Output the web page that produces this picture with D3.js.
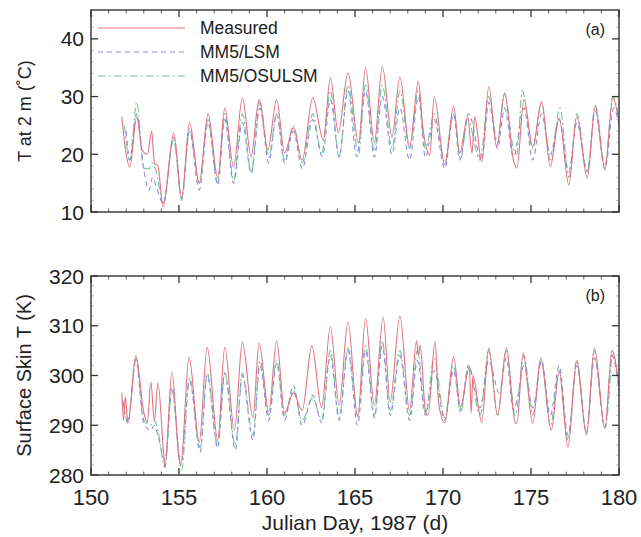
<!DOCTYPE html>
<html>
<head>
<meta charset="utf-8">
<script src="https://cdn.jsdelivr.net/npm/d3@7/dist/d3.min.js"></script>
<style>
body { margin: 0; background: #fff; }
text { font-family: "Liberation Sans", Arial, sans-serif; fill: #222; }
</style>
</head>
<body>
<div id="chart"></div>
<script>
// Data: [julian day, value] turning points
let seriesNames = ["Measured", "MM5/LSM", "MM5/OSULSM"];
let xTicks = [150, 155, 160, 165, 170, 175, 180];
let yTicksA = [10, 20, 30, 40];
let yTicksB = [280, 290, 300, 310, 320];

// (a) air temperature at 2 m (deg C)
let measuredT2m = [[151.75,26.5],[151.95,21],[152.2,17.8],[152.6,26.5],[152.9,20.8],[153.2,20],[153.45,24],[153.6,18.5],[153.8,18],[154.1,10.9],[154.7,23.7],[155.15,12.4],[155.6,25.5],[156.15,15],[156.65,27],[157.2,15.9],[157.6,28],[158.1,17.8],[158.6,29.8],[159.1,19.6],[159.45,28],[159.55,29.5],[160.05,20.8],[160.55,29.5],[161.0,20.2],[161.5,24.6],[162.0,19],[162.6,29.8],[163.2,22.5],[163.6,33.3],[164.05,23.7],[164.6,34.1],[165.2,22],[165.6,35],[166.1,22],[166.55,35.2],[167.1,23],[167.55,33.4],[168.1,21.3],[168.6,32.6],[168.85,24.8],[169.25,19.9],[169.5,30],[170.1,18.2],[170.6,28.3],[170.95,20.2],[171.4,26.5],[171.65,20.2],[171.8,26.5],[172.2,18.7],[172.6,31.7],[173.05,21.3],[173.5,30.6],[174.0,19],[174.2,17.6],[174.6,29.5],[175.1,21.3],[175.6,29.1],[176.1,17.9],[176.6,26.3],[177.15,14.7],[177.6,26.5],[178.2,15.9],[178.65,28.4],[179.2,17.3],[179.65,29.8],[180,25.5]];
let lsmT2m = [[152.0,24],[152.2,19],[152.6,27],[153.0,17.3],[153.3,13.8],[153.5,16],[153.7,14.5],[154.1,11.5],[154.7,23],[155.15,12.5],[155.6,24],[156.15,13.8],[156.65,25.5],[157.2,14.7],[157.6,26],[158.1,15],[158.6,25.5],[159.1,16.7],[159.6,28],[160.1,18.5],[160.55,27],[161.0,18.5],[161.5,24],[162.0,17.5],[162.6,26],[163.15,19.6],[163.6,29.5],[164.1,19.5],[164.6,31],[165.1,19.6],[165.6,31],[166.1,19.5],[166.55,30],[167.1,20],[167.55,28],[168.1,19],[168.6,30],[169.0,19.5],[169.5,26],[170.1,17.5],[170.6,27],[170.95,19],[171.45,27],[172.2,19],[172.6,29],[173.1,21],[173.5,28],[174.0,19.5],[174.6,28],[175.1,19],[175.6,27],[176.1,20],[176.6,26],[177.15,17],[177.6,25.5],[178.2,17],[178.65,27.5],[179.2,17.5],[179.7,28],[180,25]];
let osuT2m = [[151.9,25],[152.2,19],[152.6,29],[153.0,17.6],[153.3,17.5],[153.5,18.5],[153.7,17],[154.1,11.5],[154.7,22.5],[155.15,12],[155.6,24.5],[156.15,15],[156.65,26],[157.2,15],[157.6,27],[158.1,15.5],[158.6,27],[159.1,17],[159.6,29],[160.1,19.5],[160.55,27],[161.0,19],[161.5,25],[162.0,18.5],[162.6,27],[163.1,20],[163.6,31],[164.1,19.6],[164.6,32],[165.2,20],[165.6,32],[166.1,20.5],[166.55,32],[167.1,21],[167.55,31],[168.1,21],[168.6,31],[169.0,21],[169.5,27],[170.1,18.5],[170.6,27],[171.0,19.2],[171.4,26],[172.1,19],[172.6,30],[173.1,22],[173.5,30.5],[174.0,21],[174.2,20],[174.5,31],[175.1,21],[175.6,29],[176.1,19],[176.65,28],[177.15,16],[177.6,27],[178.2,17],[178.65,28.5],[179.2,18],[179.65,30],[180,26]];

// (b) surface skin temperature (K)
let measuredTs = [[151.75,296.5],[151.85,291],[151.95,295.7],[152.1,290.4],[152.55,304],[153.0,292.5],[153.2,290.6],[153.4,298.7],[153.6,291],[153.8,298.5],[154.15,283.2],[154.2,281.5],[154.6,300.7],[155.0,283.3],[155.1,282],[155.57,303.7],[156.15,286.6],[156.6,305.7],[157.2,287],[157.6,305.7],[158.15,289],[158.6,306.7],[159.2,291.5],[159.55,306.5],[160.1,292.7],[160.55,307],[161.0,292.5],[161.5,296.5],[162.0,293],[162.55,306],[163.1,293.5],[163.6,309.8],[164.1,294],[164.6,310.8],[165.15,291.5],[165.6,311.5],[166.1,294],[166.6,311.7],[167.0,294.7],[167.55,312],[168.1,293],[168.5,307],[168.6,304],[168.7,306],[169.0,293],[169.15,292],[169.55,306.8],[169.75,294.5],[170.1,290.5],[170.6,303.7],[171.0,293.7],[171.5,301.7],[171.6,292.5],[171.7,300],[172.2,290.6],[172.6,305.5],[173.1,292],[173.6,305.5],[174.1,290.6],[174.2,290.4],[174.55,304.5],[175.1,290.4],[175.55,303.5],[176.15,289],[176.6,300.7],[177.1,285.6],[177.6,303],[178.15,288],[178.6,305.5],[179.2,289.4],[179.6,305],[180,298]];
let lsmTs = [[151.8,295],[152.1,290.5],[152.55,303],[153.0,290.4],[153.4,289],[153.6,290],[153.8,288],[154.2,283],[154.6,297.7],[155.1,282],[155.6,299],[156.2,284.6],[156.6,300],[157.2,285.4],[157.6,300.5],[158.2,285],[158.6,300],[159.2,287],[159.6,302],[160.1,291],[160.55,302.5],[161.0,291],[161.5,298],[162.0,290],[162.6,296],[163.1,290.5],[163.6,304],[164.1,291],[164.6,305],[165.15,290],[165.6,305],[166.1,291.5],[166.55,306],[167.0,292],[167.55,304],[168.1,291],[168.55,303],[169.0,292],[169.5,301],[170.1,291],[170.6,301],[171.0,293],[171.45,302],[172.1,293.5],[172.6,303],[173.2,296.5],[173.6,303.5],[174.0,293],[174.2,295],[174.6,302],[175.1,293.5],[175.6,303],[176.1,292],[176.6,302],[177.1,288],[177.6,302],[178.15,288.5],[178.6,303.5],[179.2,289.5],[179.6,304],[180,297]];
let osuTs = [[151.8,295],[152.1,291],[152.55,303.5],[153.0,291],[153.4,290],[153.6,291],[153.8,289],[154.2,281.5],[154.6,297],[155.15,281],[155.6,299.5],[156.2,285.5],[156.6,300.5],[157.2,286],[157.6,300.5],[158.2,286],[158.6,300.5],[159.2,288],[159.6,303],[160.1,292],[160.55,303],[161.0,292],[161.5,297],[162.0,291],[162.6,295.5],[163.1,291],[163.6,305],[164.1,291.5],[164.6,305.5],[165.15,292],[165.6,306],[166.1,292],[166.55,307],[167.0,293],[167.55,305],[168.1,292],[168.55,305],[169.0,292.5],[169.5,303.5],[170.1,291.5],[170.6,302],[171.0,292.5],[171.45,302],[172.1,292],[172.6,305],[173.1,292],[173.6,305],[174.1,292],[174.6,304],[175.1,292],[175.6,303],[176.1,290],[176.6,301],[177.1,287],[177.6,303],[178.15,288.5],[178.6,305],[179.2,289.5],[179.6,305]];

let colors = ["#e2707e", "#8c8ce0", "#6cc894"];
let dashes = [null, "5,4", "8,3,2,3"];

let svg = d3.select("#chart").append("svg")
    .attr("width", 641)
    .attr("height", 537);

let xScaler = d3.scaleLinear().domain([150, 180]).range([91, 619]);

let panels = [
    {key: "a", top: 10, bottom: 212, domain: [10, 45], ticks: yTicksA, minor: 2,
     series: [measuredT2m, lsmT2m, osuT2m], title: "T at 2 m (\u02DAC)", titleSize: 18, label: "(a)", xLabels: false},
    {key: "b", top: 276, bottom: 475, domain: [280, 320], ticks: yTicksB, minor: 2,
     series: [measuredTs, lsmTs, osuTs], title: "Surface Skin T (K)", titleSize: 20, label: "(b)", xLabels: true}
];

panels.forEach(p => {
    let yScaler = d3.scaleLinear().domain(p.domain).range([p.bottom, p.top]);
    let g = svg.append("g");

    g.append("clipPath").attr("id", "clip-" + p.key)
        .append("rect")
        .attr("x", 91).attr("y", p.top)
        .attr("width", 528).attr("height", p.bottom - p.top);

    // lines
    let line = d3.line()
        .x(d => xScaler(d[0]))
        .y(d => yScaler(d[1]))
        .curve(d3.curveMonotoneX);

    // draw models first, measured on top
    [2, 1, 0].forEach(i => {
        g.append("path")
            .attr("d", line(p.series[i]))
            .attr("fill", "none")
            .attr("stroke", colors[i])
            .attr("stroke-width", 1.1)
            .attr("stroke-dasharray", dashes[i])
            .attr("clip-path", "url(#clip-" + p.key + ")");
    });

    // minor and major ticks, all pointing inward
    let xMinor = d3.range(150, 181, 1);
    [p.bottom, p.top].forEach((yy, k) => {
        let dir = k == 0 ? -1 : 1;
        g.selectAll(null).data(xMinor).enter().append("line")
            .attr("x1", d => xScaler(d)).attr("x2", d => xScaler(d))
            .attr("y1", yy).attr("y2", d => yy + dir * (d % 5 == 0 ? 7 : 3.5))
            .attr("stroke", "#333").attr("stroke-width", d => d % 5 == 0 ? 1.3 : 0.8);
    });
    let yMinor = d3.range(p.domain[0], p.domain[1] + 0.01, p.minor);
    [91, 619].forEach((xx, k) => {
        let dir = k == 0 ? 1 : -1;
        g.selectAll(null).data(yMinor).enter().append("line")
            .attr("x1", xx).attr("x2", d => xx + dir * (p.ticks.includes(d) ? 7 : 3))
            .attr("y1", d => yScaler(d)).attr("y2", d => yScaler(d))
            .attr("stroke", d => p.ticks.includes(d) ? "#333" : "#aaa")
            .attr("stroke-width", d => p.ticks.includes(d) ? 1.3 : 0.7);
    });

    // frame
    g.append("rect")
        .attr("x", 91).attr("y", p.top)
        .attr("width", 528).attr("height", p.bottom - p.top)
        .attr("fill", "none").attr("stroke", "#333").attr("stroke-width", 1.4);

    // y tick labels
    g.selectAll(null).data(p.ticks).enter().append("text")
        .attr("x", 84).attr("y", d => yScaler(d))
        .attr("dy", "0.36em")
        .attr("text-anchor", "end")
        .style("font-size", "21px")
        .text(d => d);

    // y title
    g.append("text")
        .attr("transform", "translate(31," + (p.top + p.bottom) / 2 + ") rotate(-90)")
        .attr("text-anchor", "middle")
        .style("font-size", p.titleSize + "px")
        .text(p.title);

    // panel label
    g.append("text")
        .attr("x", 605).attr("y", p.top + 25)
        .attr("text-anchor", "end")
        .style("font-size", "16px")
        .text(p.label);

    if (p.xLabels) {
        g.selectAll(null).data(xTicks).enter().append("text")
            .attr("x", d => xScaler(d)).attr("y", 505)
            .attr("text-anchor", "middle")
            .style("font-size", "22px")
            .text(d => d);
        g.append("text")
            .attr("x", 355).attr("y", 530)
            .attr("text-anchor", "middle")
            .style("font-size", "21px")
            .text("Julian Day, 1987 (d)");
    }

    // legend in panel (a)
    if (p.key == "a") {
        let legendY = [28, 52, 76];
        seriesNames.forEach((name, i) => {
            g.append("line")
                .attr("x1", 98).attr("x2", 185)
                .attr("y1", legendY[i]).attr("y2", legendY[i])
                .attr("stroke", colors[i]).attr("stroke-width", 1.1)
                .attr("stroke-dasharray", dashes[i]);
            g.append("text")
                .attr("x", 200).attr("y", legendY[i])
                .attr("dy", "0.36em")
                .style("font-size", "17.5px")
                .text(name);
        });
    }
});
</script>
</body>
</html>
